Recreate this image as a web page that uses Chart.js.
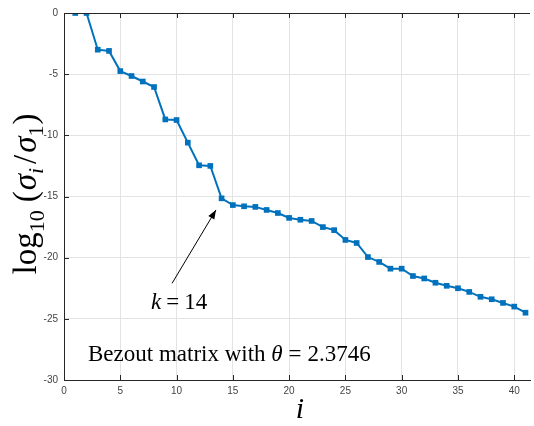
<!DOCTYPE html>
<html>
<head>
<meta charset="utf-8">
<script src="https://cdn.jsdelivr.net/npm/chart.js@4"></script>
<style>
  html, body { margin: 0; padding: 0; background: #fff; }
  #wrap { width: 534px; height: 426px; }
</style>
</head>
<body>
<div id="wrap"><canvas id="chart" width="534" height="426"></canvas></div>
<script>
// singular value index i
const indices = [1, 2, 3, 4, 5, 6, 7, 8, 9, 10, 11, 12, 13, 14, 15, 16, 17, 18, 19, 20,
  21, 22, 23, 24, 25, 26, 27, 28, 29, 30, 31, 32, 33, 34, 35, 36, 37, 38, 39, 40, 41];
// log10(sigma_i / sigma_1)
const logRatios = [0, 0, -3.0, -3.1, -4.75, -5.15, -5.6, -6.05, -8.7, -8.75, -10.6, -12.45, -12.5, -15.15,
  -15.7, -15.8, -15.85, -16.1, -16.35, -16.75, -16.9, -17.0, -17.5, -17.75, -18.55, -18.8,
  -19.95, -20.35, -20.9, -20.9, -21.5, -21.7, -22.05, -22.3, -22.5, -22.8, -23.2, -23.4,
  -23.7, -24.0, -24.5];
const xTicks = [0, 5, 10, 15, 20, 25, 30, 35, 40];
const yTicks = [0, -5, -10, -15, -20, -25, -30];

const serif = '"Liberation Serif", "DejaVu Serif", serif';

// labels, inner tick marks, top frame line and the k = 14 arrow
const decorations = {
  id: 'decorations',
  afterDraw(chart) {
    const ctx = chart.ctx;
    const a = chart.chartArea;
    const xs = chart.scales.x, ys = chart.scales.y;
    ctx.save();

    // top frame
    ctx.strokeStyle = '#262626';
    ctx.lineWidth = 1;
    ctx.beginPath();
    ctx.moveTo(a.left, a.top + 0.5);
    ctx.lineTo(a.right, a.top + 0.5);
    ctx.stroke();

    // inward ticks
    ctx.beginPath();
    xTicks.forEach(v => {
      const px = Math.round(xs.getPixelForValue(v)) + 0.5;
      ctx.moveTo(px, a.bottom); ctx.lineTo(px, a.bottom - 5);
      ctx.moveTo(px, a.top); ctx.lineTo(px, a.top + 5);
    });
    yTicks.forEach(v => {
      const py = Math.round(ys.getPixelForValue(v)) + 0.5;
      ctx.moveTo(a.left, py); ctx.lineTo(a.left + 5, py);
    });
    ctx.stroke();

    // arrow pointing at k = 14
    const x0 = xs.getPixelForValue(9.6), y0 = ys.getPixelForValue(-22.1);
    const x1 = xs.getPixelForValue(13.5), y1 = ys.getPixelForValue(-16.1);
    ctx.strokeStyle = '#000';
    ctx.lineWidth = 1;
    ctx.beginPath();
    ctx.moveTo(x0, y0); ctx.lineTo(x1, y1);
    ctx.stroke();
    const ang = Math.atan2(y1 - y0, x1 - x0);
    ctx.fillStyle = '#000';
    ctx.beginPath();
    ctx.moveTo(x1, y1);
    ctx.lineTo(x1 - 9 * Math.cos(ang) + 3.5 * Math.sin(ang), y1 - 9 * Math.sin(ang) - 3.5 * Math.cos(ang));
    ctx.lineTo(x1 - 9 * Math.cos(ang) - 3.5 * Math.sin(ang), y1 - 9 * Math.sin(ang) + 3.5 * Math.cos(ang));
    ctx.closePath();
    ctx.fill();

    ctx.fillStyle = '#000';
    ctx.textBaseline = 'alphabetic';
    ctx.textAlign = 'left';

    // helper to draw a run of text pieces
    function run(x, y, parts) {
      parts.forEach(p => {
        ctx.font = p.f;
        ctx.fillText(p.t, x, y + (p.dy || 0));
        x += ctx.measureText(p.t).width + (p.gap || 0);
      });
      return x;
    }

    // k = 14
    run(151, 309, [
      { t: 'k', f: 'italic 23px ' + serif, gap: 5 },
      { t: '=', f: '23px ' + serif, gap: 5 },
      { t: '14', f: '23px ' + serif }
    ]);

    // Bezout matrix with theta = 2.3746
    run(88, 361, [
      { t: 'Bezout matrix with ', f: '23px ' + serif },
      { t: 'θ', f: 'italic 23px ' + serif, gap: 6 },
      { t: '=', f: '23px ' + serif, gap: 6 },
      { t: '2.3746', f: '23px ' + serif }
    ]);

    // x label
    ctx.font = 'italic 30px ' + serif;
    ctx.textAlign = 'center';
    ctx.fillText('i', 300, 418);

    // y label, rotated
    ctx.save();
    ctx.translate(36, 194);
    ctx.rotate(-Math.PI / 2);
    ctx.textAlign = 'left';
    const big = '33px ' + serif, sub = '22px ' + serif, isub = 'italic 22px ' + serif, ibig = 'italic 33px ' + serif;
    const parts = [
      { t: 'log', f: big },
      { t: '10', f: sub, dy: 8, gap: 8 },
      { t: '(', f: big, gap: 1 },
      { t: 'σ', f: ibig },
      { t: 'i', f: isub, dy: 7, gap: 4 },
      { t: '/', f: big, gap: 2 },
      { t: 'σ', f: ibig },
      { t: '1', f: sub, dy: 7, gap: 1 },
      { t: ')', f: big }
    ];
    let w = 0;
    parts.forEach(p => { ctx.font = p.f; w += ctx.measureText(p.t).width + (p.gap || 0); });
    run(-w / 2, 0, parts);
    ctx.restore();

    ctx.restore();
  }
};

new Chart(document.getElementById('chart'), {
  type: 'line',
  data: {
    datasets: [{
      data: indices.map((x, k) => ({ x: x, y: logRatios[k] })),
      borderColor: '#0072BD',
      backgroundColor: '#0072BD',
      borderWidth: 2,
      pointStyle: 'rect',
      pointRadius: 4,
      pointBorderWidth: 0,
      tension: 0
    }]
  },
  options: {
    responsive: false,
    animation: false,
    layout: { padding: { top: 13, right: 0, left: 0, bottom: 0 } },
    plugins: { legend: { display: false }, tooltip: { enabled: false } },
    scales: {
      x: {
        type: 'linear',
        min: 0,
        max: 41.4,
        afterFit(s) { s.height = 46; },
        afterBuildTicks(s) { s.ticks = xTicks.map(v => ({ value: v })); },
        grid: { color: '#e3e3e3', drawTicks: false },
        border: { color: '#262626', width: 1 },
        ticks: {
          padding: 5,
          maxRotation: 0,
          color: '#444',
          font: { family: '"Liberation Sans", Arial, sans-serif', size: 10 }
        }
      },
      y: {
        type: 'linear',
        min: -30,
        max: 0,
        afterFit(s) { s.width = 64; },
        afterBuildTicks(s) { s.ticks = yTicks.map(v => ({ value: v })); },
        grid: { color: '#e3e3e3', drawTicks: false },
        border: { color: '#262626', width: 1 },
        ticks: {
          padding: 6,
          color: '#444',
          font: { family: '"Liberation Sans", Arial, sans-serif', size: 10 }
        }
      }
    }
  },
  plugins: [decorations]
});
</script>
</body>
</html>
